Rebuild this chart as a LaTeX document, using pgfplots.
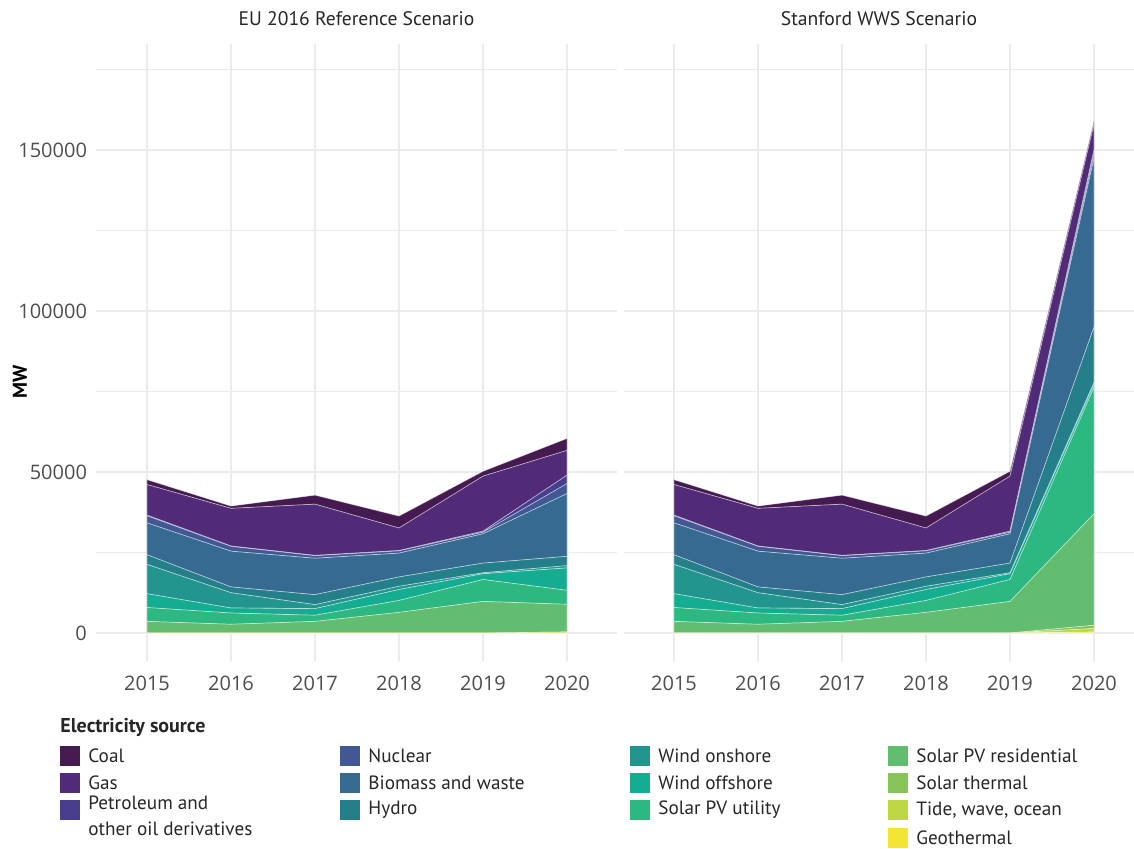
\documentclass[border=0pt]{standalone}
\usepackage{fontspec}
\setmainfont{PT Sans}
\newfontfamily\tickfont{Open Sans}
\usepackage{pgfplots}
\pgfplotsset{compat=1.18}
\usepackage{pgfplotstable}

\definecolor{cCoal}{HTML}{441A50}
\definecolor{cGas}{HTML}{522B78}
\definecolor{cPet}{HTML}{473F8D}
\definecolor{cNuc}{HTML}{415894}
\definecolor{cBio}{HTML}{366A91}
\definecolor{cHyd}{HTML}{257F8B}
\definecolor{cWon}{HTML}{22968E}
\definecolor{cWoff}{HTML}{15AD92}
\definecolor{cUtil}{HTML}{2DB882}
\definecolor{cRes}{HTML}{62BD70}
\definecolor{cTherm}{HTML}{86C45A}
\definecolor{cTide}{HTML}{BDD643}
\definecolor{cGeo}{HTML}{F4E535}
\definecolor{gridc}{HTML}{EBEBEB}
\definecolor{tickc}{HTML}{4D4D4D}
\definecolor{txtc}{HTML}{262626}

\pgfplotstableread{
year geo tide therm res util off on hydro bio nuc pet gas coal
2015 0 0 0 3600 4300 4300 9100 3000 9900 2200 200 9500 1500
2016 0 0 0 2700 3500 1560 4740 1800 11100 1500 100 11700 700
2017 0 0 0 3600 1900 2060 1240 3100 11300 800 100 15900 2800
2018 0 0 0 6400 3700 3400 1000 2900 7400 700 100 7000 3700
2019 0 0 0 9800 6800 1800 300 3000 9100 500 300 17100 1500
2020 0 300 0 8600 4350 6950 700 2900 19500 3100 2600 7700 3700
}\eudata

\pgfplotstableread{
year geo tide therm res util off on hydro bio nuc pet gas coal
2015 0 0 0 3600 4300 4300 9100 3000 9900 2200 200 9500 1500
2016 0 0 0 2700 3500 1560 4740 1800 11100 1500 100 11700 700
2017 0 0 0 3600 1900 2060 1240 3100 11300 800 100 15900 2800
2018 0 0 0 6400 3700 3400 1000 2900 7400 700 100 7000 3700
2019 0 0 0 9800 6800 1800 300 3000 9100 500 300 17100 1500
2020 300 1100 1000 34600 39300 1000 500 17200 52500 1500 1000 8000 1000
}\wwsdata

\pgfplotsset{
  panel/.style={
    scale only axis,
    anchor=south west,
    height=308.5pt,
    ymin=-8696, ymax=182919,
    stack plots=y,
    axis line style={draw=none},
    major tick length=0pt, minor tick length=0pt,
    xtick={2015,2016,2017,2018,2019,2020},
    minor xtick={},
    ytick={0,50000,100000,150000},
    minor ytick={25000,75000,125000,175000},
    grid=both,
    major grid style={draw=gridc, line width=0.55pt},
    minor grid style={draw=gridc, line width=0.3pt},
    scaled y ticks=false,
    scaled x ticks=false,
    /pgf/number format/assume math mode=true,
    xticklabel style={/pgf/number format/1000 sep={}, font=\tickfont\fontsize{10}{12}\selectfont, text=tickc, yshift=-4pt},
    yticklabel style={/pgf/number format/fixed, /pgf/number format/1000 sep={}, font=\tickfont\fontsize{10}{12}\selectfont, text=tickc, xshift=-1pt},
    title style={at={(0.5,1)}, anchor=base, yshift=3pt, font=\fontsize{9.8}{12}\selectfont, text=txtc},
    every axis plot/.append style={draw=white, draw opacity=0.45, line width=0.35pt},
  }
}

\newcommand{\stackall}[1]{%
  \addplot[fill=cGeo] table[x=year,y=geo]{#1} \closedcycle;
  \addplot[fill=cTide] table[x=year,y=tide]{#1} \closedcycle;
  \addplot[fill=cTherm] table[x=year,y=therm]{#1} \closedcycle;
  \addplot[fill=cRes] table[x=year,y=res]{#1} \closedcycle;
  \addplot[fill=cUtil] table[x=year,y=util]{#1} \closedcycle;
  \addplot[fill=cWoff] table[x=year,y=off]{#1} \closedcycle;
  \addplot[fill=cWon] table[x=year,y=on]{#1} \closedcycle;
  \addplot[fill=cHyd] table[x=year,y=hydro]{#1} \closedcycle;
  \addplot[fill=cBio] table[x=year,y=bio]{#1} \closedcycle;
  \addplot[fill=cNuc] table[x=year,y=nuc]{#1} \closedcycle;
  \addplot[fill=cPet] table[x=year,y=pet]{#1} \closedcycle;
  \addplot[fill=cGas] table[x=year,y=gas]{#1} \closedcycle;
  \addplot[fill=cCoal] table[x=year,y=coal]{#1} \closedcycle;
}

\begin{document}
\begin{tikzpicture}
\useasboundingbox (0pt,0pt) rectangle (567pt,424.5pt);

\begin{axis}[panel, at={(48pt,94pt)}, width=260.5pt,
  xmin=2014.393, xmax=2020.595,
  title={EU 2016 Reference Scenario}]
\stackall{\eudata}
\end{axis}

\begin{axis}[panel, at={(312pt,94pt)}, width=255pt,
  xmin=2014.405, xmax=2020.476,
  yticklabels={},
  title={Stanford WWS Scenario}]
\stackall{\wwsdata}
\end{axis}

\node[rotate=90, text=black, font=\bfseries\fontsize{10}{12}\selectfont] at (10pt,233.5pt) {MW};

% legend
\node[anchor=west, inner sep=0pt, text=txtc, font=\bfseries\fontsize{10}{12}\selectfont] at (30pt,61pt) {Electricity source};
\begin{scope}[every node/.style={anchor=west, inner sep=0pt, text=txtc, font=\fontsize{9.6}{12}\selectfont}]
% column 1
\fill[cCoal] (30pt,41.5pt) rectangle (40pt,51.5pt); \node at (44pt,46.5pt) {Coal};
\fill[cGas]  (30pt,28pt) rectangle (40pt,38pt);     \node at (44pt,33pt) {Gas};
\fill[cPet]  (30pt,14.5pt) rectangle (40pt,24.5pt); \node at (44pt,23pt) {Petroleum and};
\node at (44pt,10pt) {other oil derivatives};
% column 2
\fill[cNuc] (170pt,41.5pt) rectangle (180pt,51.5pt); \node at (184pt,46.5pt) {Nuclear};
\fill[cBio] (170pt,28pt) rectangle (180pt,38pt);     \node at (184pt,33pt) {Biomass and waste};
\fill[cHyd] (170pt,14.5pt) rectangle (180pt,24.5pt); \node at (184pt,19.5pt) {Hydro};
% column 3
\fill[cWon]  (315pt,41.5pt) rectangle (325pt,51.5pt); \node at (329pt,46.5pt) {Wind onshore};
\fill[cWoff] (315pt,28pt) rectangle (325pt,38pt);     \node at (329pt,33pt) {Wind offshore};
\fill[cUtil] (315pt,14.5pt) rectangle (325pt,24.5pt); \node at (329pt,19.5pt) {Solar PV utility};
% column 4
\fill[cRes]   (444pt,41.5pt) rectangle (454pt,51.5pt); \node at (458pt,46.5pt) {Solar PV residential};
\fill[cTherm] (444pt,28pt) rectangle (454pt,38pt);     \node at (458pt,33pt) {Solar thermal};
\fill[cTide]  (444pt,14.5pt) rectangle (454pt,24.5pt); \node at (458pt,19.5pt) {Tide, wave, ocean};
\fill[cGeo]   (444pt,0.5pt) rectangle (454pt,10.5pt);  \node at (458pt,5.5pt) {Geothermal};
\end{scope}
\end{tikzpicture}
\end{document}
